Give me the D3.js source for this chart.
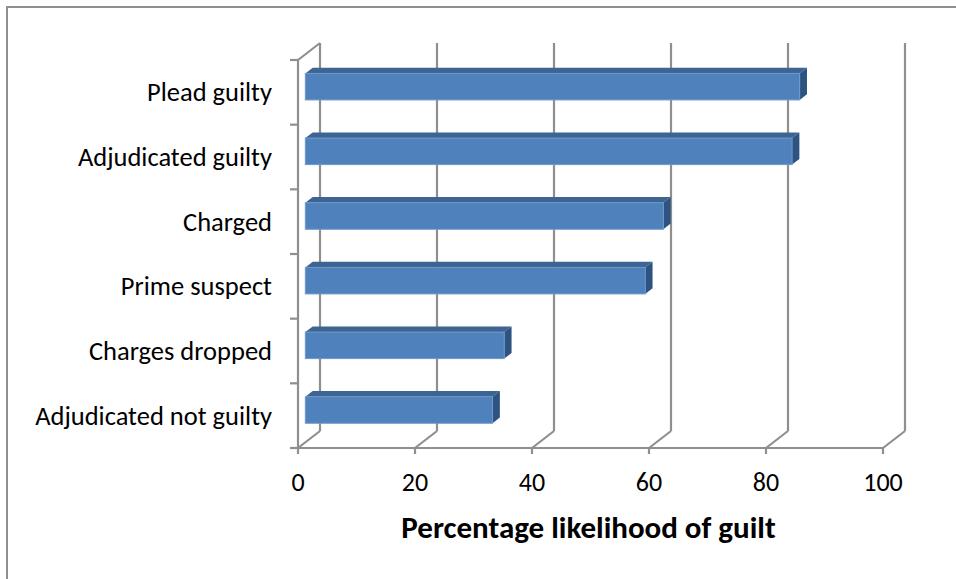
<!DOCTYPE html>
<html>
<head>
<meta charset="utf-8">
<script src="https://cdn.jsdelivr.net/npm/d3@7"></script>
<style>
  body { margin: 0; background: #fff; }
  svg { display: block; font-family: Carlito, Calibri, Lato, sans-serif; }
</style>
</head>
<body>
<svg id="canvas" width="956" height="579"></svg>
<script>
// categories top to bottom
var categories = ['Plead guilty', 'Adjudicated guilty', 'Charged', 'Prime suspect', 'Charges dropped', 'Adjudicated not guilty'];
var values = [84.5, 83.2, 61.2, 58.1, 34.0, 32.0];
var ticks = [0, 20, 40, 60, 80, 100];
var axisTitle = 'Percentage likelihood of guilt';

var svg = d3.select('#canvas');
var grey = '#8f8f8f';

// depth offset of the 3d box (front -> back)
var dx = 22, dy = -17;

var x = d3.scaleLinear().domain([0, 100]).range([298, 883]);
var y = d3.scaleBand().domain(categories).range([60, 448]).padding(0);

// outer frame
svg.append('path')
    .attr('d', 'M7,590 L7,7 L970,7')
    .attr('fill', 'none')
    .attr('stroke', grey)
    .attr('stroke-width', 2);

var box = svg.append('g')
    .attr('fill', 'none')
    .attr('stroke', grey)
    .attr('stroke-width', 2.2);

// back wall gridlines
box.selectAll('.grid')
    .data(ticks)
    .enter()
    .append('line')
    .attr('x1', function (d) { return x(d) + dx; })
    .attr('x2', function (d) { return x(d) + dx; })
    .attr('y1', 60 + dy)
    .attr('y2', 448 + dy);

// floor diagonals
box.selectAll('.diag')
    .data(ticks)
    .enter()
    .append('line')
    .attr('x1', function (d) { return x(d); })
    .attr('x2', function (d) { return x(d) + dx; })
    .attr('y1', 448)
    .attr('y2', 448 + dy);

// front floor edge and ticks
box.append('line')
    .attr('x1', x(0)).attr('x2', x(100))
    .attr('y1', 448).attr('y2', 448);
box.selectAll('.xtick')
    .data(ticks)
    .enter()
    .append('line')
    .attr('x1', function (d) { return x(d); })
    .attr('x2', function (d) { return x(d); })
    .attr('y1', 448)
    .attr('y2', 454);

// left wall
box.append('line')
    .attr('x1', x(0)).attr('x2', x(0))
    .attr('y1', 60).attr('y2', 448);
box.append('line')
    .attr('x1', x(0)).attr('x2', x(0) + dx)
    .attr('y1', 60).attr('y2', 60 + dy);

var bounds = categories.map(function (c) { return y(c); }).concat([448]);
box.selectAll('.ytick')
    .data(bounds)
    .enter()
    .append('line')
    .attr('x1', x(0) - 8)
    .attr('x2', x(0))
    .attr('y1', function (d) { return d; })
    .attr('y2', function (d) { return d; });

// bars: front face sits a third of the way into the box, depth one third
var fx = dx / 3, fy = dy / 3;
var h = y.bandwidth() * 0.41;

var bars = svg.selectAll('.bar')
    .data(categories.map(function (c, i) { return { cat: c, v: values[i] }; }))
    .enter()
    .append('g');

function barTop(d) {
    return y(d.cat) + (y.bandwidth() - h) / 2 + fy;
}

// top face
bars.append('path')
    .attr('d', function (d) {
        var x0 = x(0) + fx, x1 = x(d.v) + fx, t = barTop(d);
        return 'M' + x0 + ',' + t + 'L' + (x0 + fx) + ',' + (t + fy) +
            'L' + (x1 + fx) + ',' + (t + fy) + 'L' + x1 + ',' + t + 'Z';
    })
    .attr('fill', '#3d6593');

// side face
bars.append('path')
    .attr('d', function (d) {
        var x1 = x(d.v) + fx, t = barTop(d);
        return 'M' + x1 + ',' + t + 'L' + (x1 + fx) + ',' + (t + fy) +
            'L' + (x1 + fx) + ',' + (t + fy + h) + 'L' + x1 + ',' + (t + h) + 'Z';
    })
    .attr('fill', '#2f5380');

// front face
bars.append('rect')
    .attr('x', x(0) + fx)
    .attr('y', barTop)
    .attr('width', function (d) { return x(d.v) - x(0); })
    .attr('height', h)
    .attr('fill', '#4f81bd')
    .attr('stroke', '#6f97c9')
    .attr('stroke-width', 1);

// category labels
svg.selectAll('.cat')
    .data(categories)
    .enter()
    .append('text')
    .attr('x', 272)
    .attr('y', function (d) { return y(d) + y.bandwidth() / 2 + 9; })
    .attr('text-anchor', 'end')
    .attr('font-size', 26.5)
    .attr('fill', '#000')
    .text(function (d) { return d; });

// value tick labels
svg.selectAll('.tl')
    .data(ticks)
    .enter()
    .append('text')
    .attr('x', function (d) { return x(d); })
    .attr('y', 491)
    .attr('text-anchor', 'middle')
    .attr('font-size', 26)
    .attr('fill', '#000')
    .text(function (d) { return d; });

svg.append('text')
    .attr('x', (x(0) + x(100)) / 2 - 2)
    .attr('y', 538)
    .attr('text-anchor', 'middle')
    .attr('font-size', 31)
    .attr('font-weight', 'bold')
    .attr('fill', '#000')
    .text(axisTitle);
</script>
</body>
</html>
